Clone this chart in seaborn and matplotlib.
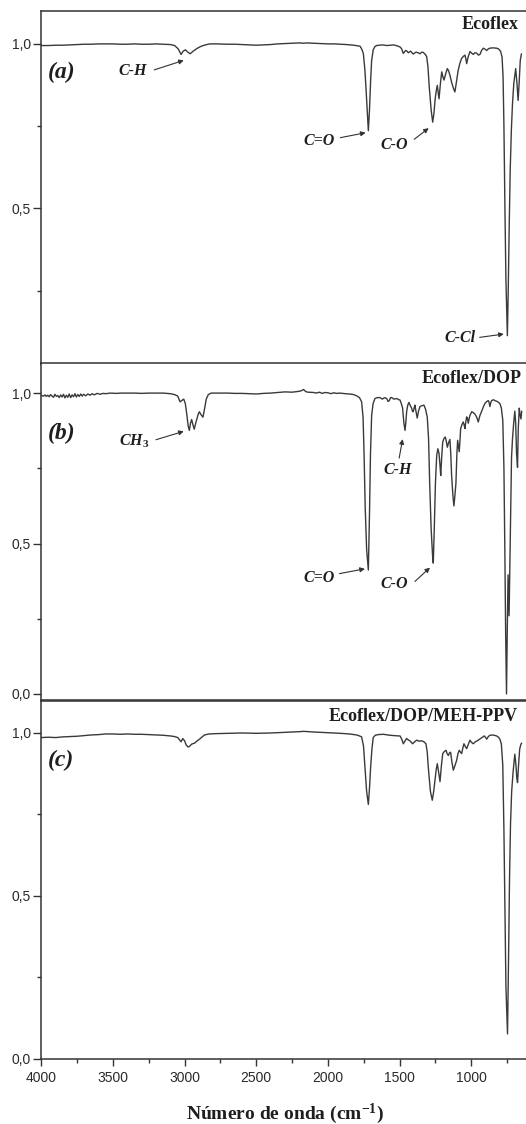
import matplotlib
matplotlib.use("Agg")
import matplotlib.pyplot as plt
import seaborn as sns
import pandas as pd

# ---------------- data ----------------
wn_a = [4000, 3950, 3900, 3850, 3800, 3750, 3700, 3650, 3600, 3550, 3500, 3450, 3400, 3350, 3300,
        3250, 3200, 3150, 3100, 3070, 3045, 3025, 3010, 2994, 2978, 2961, 2940, 2910, 2884, 2855,
        2825, 2780, 2700, 2650, 2600, 2550, 2500, 2450, 2400, 2350, 2300, 2250, 2200, 2170, 2150,
        2100, 2050, 2000, 1950, 1916, 1870, 1820, 1776, 1765, 1753, 1742, 1735, 1725, 1718, 1710,
        1702, 1695, 1684, 1672, 1660, 1620, 1590, 1567, 1540, 1509, 1495, 1486, 1474, 1458, 1448,
        1439, 1423, 1405, 1386, 1370, 1358, 1345, 1335, 1320, 1311, 1302, 1293, 1280, 1269, 1260,
        1253, 1245, 1237, 1230, 1225, 1215, 1206, 1198, 1190, 1178, 1167, 1158, 1149, 1135, 1122,
        1114, 1105, 1091, 1080, 1067, 1055, 1044, 1038, 1032, 1022, 1009, 998, 986, 975, 962,
        950, 939, 928, 916, 904, 892, 881, 870, 850, 823, 810, 800, 795, 785, 778,
        772, 765, 758, 748, 742, 735, 728, 720, 712, 703, 690, 681, 673, 666, 658, 650]
t_a = [0.995, 0.995, 0.996, 0.996, 0.997, 0.998, 0.999, 0.999, 1.000, 1.000, 1.000, 0.999, 0.999, 1.000, 0.999,
       0.999, 1.000, 0.999, 0.998, 0.995, 0.985, 0.968, 0.978, 0.982, 0.975, 0.970, 0.978, 0.987, 0.993, 0.997,
       1.000, 1.000, 0.999, 0.999, 0.998, 0.997, 0.996, 0.997, 0.998, 1.000, 1.001, 1.002, 1.003, 1.002, 1.003,
       1.002, 1.001, 1.000, 1.000, 0.999, 0.998, 0.996, 0.993, 0.985, 0.971, 0.920, 0.869, 0.790, 0.736, 0.800,
       0.890, 0.950, 0.982, 0.992, 0.995, 0.997, 0.995, 0.996, 0.997, 0.993, 0.990, 0.985, 0.971, 0.980, 0.978,
       0.973, 0.978, 0.969, 0.975, 0.973, 0.970, 0.975, 0.974, 0.968, 0.961, 0.930, 0.869, 0.800, 0.762, 0.790,
       0.828, 0.855, 0.874, 0.850, 0.833, 0.880, 0.915, 0.900, 0.890, 0.910, 0.925, 0.918, 0.905, 0.880, 0.862,
       0.854, 0.880, 0.920, 0.940, 0.956, 0.962, 0.966, 0.955, 0.940, 0.960, 0.977, 0.972, 0.968, 0.973, 0.972,
       0.966, 0.968, 0.980, 0.987, 0.984, 0.980, 0.985, 0.987, 0.988, 0.987, 0.985, 0.980, 0.977, 0.960, 0.900,
       0.750, 0.500, 0.280, 0.113, 0.250, 0.450, 0.620, 0.740, 0.820, 0.880, 0.925, 0.880, 0.828, 0.880, 0.950, 0.970]

wn_b = [4000, 3985, 3975, 3965, 3955, 3945, 3935, 3925, 3915, 3905, 3895, 3885, 3875, 3865, 3855,
        3845, 3835, 3825, 3815, 3805, 3795, 3785, 3775, 3765, 3755, 3745, 3735, 3725, 3715, 3705,
        3690, 3675, 3660, 3645, 3630, 3610, 3590, 3570, 3550, 3520, 3480, 3440, 3400, 3350, 3300,
        3250, 3200, 3150, 3100, 3070, 3048, 3032, 3020, 3006, 2995, 2985, 2975, 2967, 2959, 2951,
        2942, 2933, 2920, 2905, 2897, 2888, 2872, 2860, 2849, 2835, 2815, 2780, 2700, 2650, 2600,
        2550, 2500, 2450, 2400, 2350, 2300, 2250, 2200, 2185, 2170, 2155, 2140, 2100, 2080, 2060,
        2040, 2020, 2000, 1980, 1960, 1940, 1916, 1880, 1850, 1820, 1800, 1780, 1765, 1755, 1748,
        1740, 1730, 1718, 1710, 1703, 1695, 1685, 1672, 1655, 1637, 1620, 1605, 1590, 1580, 1572,
        1563, 1555, 1540, 1520, 1505, 1497, 1488, 1479, 1470, 1462, 1456, 1451, 1443, 1435, 1425,
        1416, 1410, 1405, 1399, 1393, 1386, 1377, 1368, 1358, 1345, 1330, 1318, 1307, 1298, 1290,
        1280, 1270, 1265, 1258, 1250, 1241, 1233, 1225, 1218, 1213, 1206, 1199, 1190, 1181, 1174,
        1167, 1158, 1149, 1143, 1137, 1128, 1121, 1114, 1107, 1100, 1095, 1090, 1084, 1079, 1074,
        1065, 1056, 1050, 1044, 1038, 1032, 1026, 1021, 1010, 997, 985, 974, 962, 951, 940,
        927, 915, 904, 892, 881, 875, 870, 864, 858, 845, 835, 818, 800, 790, 780,
        772, 765, 760, 754, 749, 743, 739, 736, 730, 724, 719, 712, 704, 696, 690,
        684, 677, 672, 665, 660, 653, 648]
t_b = [0.992, 0.990, 0.994, 0.989, 0.993, 0.988, 0.995, 0.990, 0.986, 0.996, 0.989, 0.992, 0.985, 0.994, 0.987,
       0.996, 0.984, 0.993, 0.986, 0.997, 0.985, 0.994, 0.988, 0.998, 0.987, 0.995, 0.989, 0.997, 0.990, 0.996,
       0.991, 0.997, 0.993, 0.998, 0.994, 0.999, 0.996, 0.999, 0.998, 1.000, 0.999, 1.000, 1.000, 1.000, 0.999,
       1.000, 1.000, 1.000, 0.998, 0.995, 0.990, 0.971, 0.975, 0.980, 0.965, 0.930, 0.890, 0.876, 0.900, 0.912,
       0.895, 0.880, 0.905, 0.930, 0.938, 0.930, 0.920, 0.950, 0.980, 0.995, 1.000, 1.000, 1.000, 0.999, 0.999,
       0.998, 0.997, 0.999, 1.000, 1.002, 1.004, 1.003, 1.006, 1.008, 1.012, 1.005, 1.003, 1.002, 1.000, 1.003,
       0.999, 1.002, 1.001, 0.998, 1.001, 0.999, 1.000, 0.998, 0.997, 0.995, 0.991, 0.985, 0.971, 0.920, 0.800,
       0.620, 0.480, 0.412, 0.600, 0.800, 0.926, 0.965, 0.982, 0.985, 0.985, 0.980, 0.985, 0.982, 0.972, 0.975,
       0.985, 0.985, 0.980, 0.982, 0.978, 0.977, 0.965, 0.950, 0.900, 0.876, 0.905, 0.938, 0.960, 0.969, 0.958,
       0.950, 0.940, 0.938, 0.950, 0.960, 0.940, 0.917, 0.940, 0.955, 0.958, 0.960, 0.945, 0.920, 0.850, 0.700,
       0.550, 0.460, 0.435, 0.550, 0.700, 0.793, 0.815, 0.800, 0.760, 0.726, 0.790, 0.837, 0.850, 0.854, 0.840,
       0.820, 0.835, 0.846, 0.800, 0.726, 0.660, 0.625, 0.660, 0.700, 0.800, 0.843, 0.825, 0.805, 0.840, 0.882,
       0.895, 0.904, 0.895, 0.882, 0.905, 0.921, 0.915, 0.900, 0.925, 0.938, 0.935, 0.930, 0.920, 0.904, 0.925,
       0.940, 0.955, 0.966, 0.972, 0.975, 0.968, 0.955, 0.968, 0.975, 0.978, 0.975, 0.972, 0.965, 0.950, 0.910,
       0.750, 0.450, 0.200, 0.000, 0.200, 0.396, 0.320, 0.260, 0.450, 0.650, 0.786, 0.850, 0.900, 0.940, 0.900,
       0.800, 0.753, 0.880, 0.950, 0.930, 0.914, 0.940]

wn_c = [4000, 3950, 3900, 3850, 3800, 3750, 3700, 3650, 3600, 3550, 3500, 3450, 3400, 3350, 3300,
        3250, 3200, 3150, 3100, 3070, 3048, 3025, 3013, 3000, 2989, 2975, 2966, 2950, 2930, 2912,
        2896, 2878, 2861, 2830, 2780, 2700, 2600, 2500, 2400, 2300, 2250, 2200, 2170, 2140, 2100,
        2050, 2000, 1950, 1916, 1850, 1800, 1780, 1765, 1752, 1742, 1730, 1718, 1710, 1702, 1693,
        1684, 1670, 1650, 1614, 1580, 1567, 1540, 1510, 1497, 1485, 1474, 1462, 1451, 1440, 1428,
        1418, 1409, 1395, 1381, 1365, 1346, 1330, 1316, 1307, 1300, 1285, 1272, 1262, 1253, 1245,
        1237, 1228, 1218, 1208, 1199, 1188, 1176, 1168, 1160, 1152, 1144, 1135, 1125, 1113, 1102,
        1093, 1084, 1075, 1067, 1059, 1051, 1042, 1032, 1020, 1009, 998, 986, 972, 958, 942,
        927, 909, 900, 892, 881, 870, 850, 823, 810, 800, 790, 780, 772, 765, 758,
        747, 740, 733, 726, 718, 708, 696, 688, 682, 677, 670, 662, 653, 648]
t_c = [0.985, 0.986, 0.985, 0.987, 0.988, 0.989, 0.991, 0.993, 0.994, 0.996, 0.996, 0.995, 0.996, 0.995, 0.995,
       0.994, 0.993, 0.992, 0.990, 0.988, 0.985, 0.972, 0.982, 0.975, 0.962, 0.956, 0.958, 0.965, 0.968, 0.975,
       0.980, 0.987, 0.993, 0.996, 0.997, 0.998, 0.999, 0.998, 0.999, 1.001, 1.002, 1.003, 1.004, 1.003, 1.002,
       1.001, 1.000, 0.999, 0.998, 0.996, 0.993, 0.990, 0.987, 0.960, 0.895, 0.820, 0.780, 0.830, 0.895, 0.950,
       0.985, 0.992, 0.994, 0.995, 0.993, 0.992, 0.991, 0.990, 0.990, 0.980, 0.966, 0.975, 0.982, 0.978, 0.975,
       0.970, 0.966, 0.972, 0.977, 0.974, 0.975, 0.972, 0.966, 0.940, 0.895, 0.820, 0.793, 0.820, 0.854, 0.885,
       0.905, 0.880, 0.850, 0.900, 0.936, 0.942, 0.946, 0.935, 0.930, 0.938, 0.940, 0.910, 0.885, 0.900, 0.915,
       0.935, 0.946, 0.940, 0.936, 0.952, 0.966, 0.958, 0.951, 0.965, 0.977, 0.970, 0.966, 0.972, 0.975, 0.980,
       0.985, 0.990, 0.985, 0.980, 0.988, 0.992, 0.993, 0.990, 0.986, 0.980, 0.965, 0.900, 0.700, 0.450, 0.220,
       0.077, 0.300, 0.550, 0.720, 0.820, 0.880, 0.934, 0.900, 0.860, 0.847, 0.900, 0.950, 0.965, 0.968]

titles = ["Ecoflex", "Ecoflex/DOP", "Ecoflex/DOP/MEH-PPV"]
panel_tags = ["(a)", "(b)", "(c)"]
ytick_vals = [0.0, 0.5, 1.0]
ytick_text = ["0,0", "0,5", "1,0"]
xtick_vals = [4000, 3500, 3000, 2500, 2000, 1500, 1000]
xtick_text = ["4000", "3500", "3000", "2500", "2000", "1500", "1000"]
xlabel = "Número de onda (cm$^{\\mathbf{-1}}$)"

# annotations: (panel, text, text_xy, arrow_start, arrow_end)
notes = [
    (0, "C-H", (3359, 0.919), (3212, 0.921), (3006, 0.950)),
    (0, "C=O", (2065, 0.705), (1913, 0.715), (1737, 0.730)),
    (0, "C-O", (1538, 0.693), (1398, 0.710), (1297, 0.744)),
    (0, "C-Cl", (1081, 0.105), (941, 0.108), (773, 0.118)),
    (1, "CH$_{\\mathit{3}}$", (3352, 0.840), (3200, 0.845), (3006, 0.873)),
    (1, "C-H", (1515, 0.744), (1503, 0.784), (1479, 0.847)),
    (1, "C=O", (2065, 0.387), (1920, 0.400), (1742, 0.416)),
    (1, "C-O", (1538, 0.365), (1393, 0.374), (1288, 0.420)),
]

# ---------------- style ----------------
sns.set_theme(style="ticks")
plt.rcParams.update({
    "font.family": ["Liberation Sans", "DejaVu Sans"],
    "mathtext.fontset": "custom",
    "mathtext.rm": "Liberation Serif:bold",
    "mathtext.it": "Liberation Serif:bold:italic",
    "mathtext.bf": "Liberation Serif:bold",
    "axes.edgecolor": "#333333",
    "axes.linewidth": 1.1,
    "xtick.color": "#333333",
    "ytick.color": "#333333",
    "xtick.labelcolor": "#2a2a2a",
    "ytick.labelcolor": "#2a2a2a",
})

line_color = "#3a3a3a"
text_color = "#1e1e1e"
serif = ["Liberation Serif", "DejaVu Serif"]

fig = plt.figure(figsize=(5.26, 11.24), dpi=100)
W, H = 526.0, 1124.0
left_px = 41.3
# (top_px, bottom_px, ylim)
panels = [
    (11.0, 364.0, (0.027, 1.10)),
    (363.0, 700.0, (-0.02, 1.10)),
    (701.0, 1059.0, (0.0, 1.097)),
]
data = [(wn_a, t_a), (wn_b, t_b), (wn_c, t_c)]
tag_pos = [0.827, 0.791, 0.835]
title_pos = [(0.984, 0.963), (0.991, 0.954), (0.984, 0.957)]

axes = []
for i, (top, bot, ylim) in enumerate(panels):
    ax = fig.add_axes([left_px / W, 1 - bot / H, (W - left_px) / W, (bot - top) / H])
    axes.append(ax)
    df = pd.DataFrame({"wn": data[i][0], "t": data[i][1]})
    sns.lineplot(data=df, x="wn", y="t", ax=ax, color=line_color, linewidth=1.0,
                 estimator=None, sort=False)
    ax.set_xlabel("")
    ax.set_ylabel("")
    ax.spines["right"].set_visible(False)
    ax.set_yticks(ytick_vals)
    ax.set_yticklabels(ytick_text)
    ax.set_yticks([0.25, 0.75], minor=True)
    ax.tick_params(axis="y", which="major", direction="out", length=5.5, width=1.0,
                   labelsize=10, pad=2)
    ax.tick_params(axis="y", which="minor", direction="out", length=3, width=1.0)
    if i < 2:
        ax.tick_params(axis="x", which="both", bottom=False, labelbottom=False)
    else:
        ax.set_xticks(xtick_vals)
        ax.set_xticklabels(xtick_text)
        ax.set_xticks([3750, 3250, 2750, 2250, 1750, 1250, 750], minor=True)
        ax.tick_params(axis="x", which="major", direction="out", length=5, width=1.0,
                       labelsize=10, pad=4)
        ax.tick_params(axis="x", which="minor", direction="out", length=3, width=1.0)
    # limits last, so tick setting cannot widen them
    ax.set_xlim(4000, 618)
    ax.set_ylim(*ylim)
    ax.text(0.014, tag_pos[i], panel_tags[i], transform=ax.transAxes, ha="left", va="center",
            fontsize=17, fontweight="bold", fontstyle="italic", family=serif, color=text_color)
    ax.text(title_pos[i][0], title_pos[i][1], titles[i], transform=ax.transAxes, ha="right",
            va="center", fontsize=13, fontweight="bold", family=serif, color=text_color)

for (p, s, txy, a0, a1) in notes:
    ax = axes[p]
    ax.text(txy[0], txy[1], s, ha="center", va="center", fontsize=11.5, fontweight="bold",
            fontstyle="italic", family=serif, color=text_color)
    ax.annotate("", xy=a1, xytext=a0,
                arrowprops=dict(arrowstyle="-|>", color="#333333", lw=0.8,
                                mutation_scale=7, shrinkA=0, shrinkB=0))

fig.text(0.542, 1 - 1119.0 / H, xlabel, ha="center", va="baseline", fontsize=14,
         fontweight="bold", family=serif, color=text_color)

fig.savefig("out.png", dpi=100)
